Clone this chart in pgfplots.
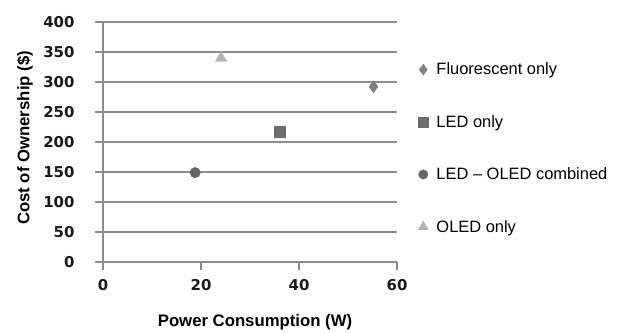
\documentclass[border=0pt]{standalone}
\usepackage{fontspec}
\setmainfont{Liberation Sans}
\newfontfamily\tickfont{DejaVu Sans}
\usepackage{pgfplots}
\pgfplotsset{compat=1.18}
\definecolor{gridc}{HTML}{8C8C8C}
\definecolor{cdia}{HTML}{808080}
\definecolor{csq}{HTML}{6E6E6E}
\definecolor{ccir}{HTML}{666666}
\definecolor{ctri}{HTML}{B4B4B4}
\begin{document}
\begin{tikzpicture}[x=1bp,y=1bp]
\path[use as bounding box] (-103,-70) rectangle (515,262);
\begin{axis}[
  at={(0,0)}, anchor=origin,
  scale only axis, width=294bp, height=240bp,
  xmin=0, xmax=60, ymin=0, ymax=400,
  xtick={0,20,40,60}, ytick={0,50,...,400},
  axis x line=bottom, axis y line=left,
  axis line style={-, gridc, line width=1.4bp},
  ymajorgrids, major grid style={gridc, line width=1.4bp},
  tick style={gridc, line width=1.4bp},
  tick align=outside, major tick length=8bp,
  /pgf/number format/assume math mode=true,
  ticklabel style={font=\tickfont\bfseries\fontsize{15}{15}\selectfont, text=black!90},
  xticklabel style={yshift=-6bp},
  yticklabel style={xshift=-17bp},
  xlabel={Power Consumption (W)},
  ylabel={Cost of Ownership (\$)},
  label style={font=\bfseries\fontsize{16.8}{16.8}\selectfont},
  xlabel style={at={(rel axis cs:0.517,0)}, anchor=center, yshift=-60bp},
  ylabel style={at={(rel axis cs:0,0.517)}, anchor=center, yshift=78bp},
  legend style={at={(rel axis cs:1.071,0.474)}, anchor=west, draw=none, fill=none,
    inner sep=0pt, row sep=35bp, font=\fontsize{16.5}{16.5}\selectfont,
    nodes={inner sep=2bp}},
  legend cell align=left,
  legend image code/.code={\path (0bp,0bp) (16bp,0bp); \draw[mark repeat=2,mark phase=2,#1, every mark/.append style={scale=0.9}] plot coordinates {(0bp,0bp)(5bp,0bp)(16bp,0bp)};},
  clip=false,
]
\addplot[only marks, mark=diamond*, mark size=6bp, mark options={fill=cdia, draw=cdia}] coordinates {(55.2,292)};
\addlegendentry{Fluorescent only}
\addplot[only marks, mark=square*, mark size=5.5bp, mark options={fill=csq, draw=csq, rounded corners=1.5bp}] coordinates {(36,217)};
\addlegendentry{LED only}
\addplot[only marks, mark=*, mark size=5.2bp, mark options={fill=ccir, draw=ccir}] coordinates {(18.8,149)};
\addlegendentry{LED -- OLED combined}
\addplot[only marks, mark=triangle*, mark size=6.5bp, mark options={fill=ctri, draw=ctri}] coordinates {(24.1,340)};
\addlegendentry{OLED only}
\end{axis}
\end{tikzpicture}
\end{document}
